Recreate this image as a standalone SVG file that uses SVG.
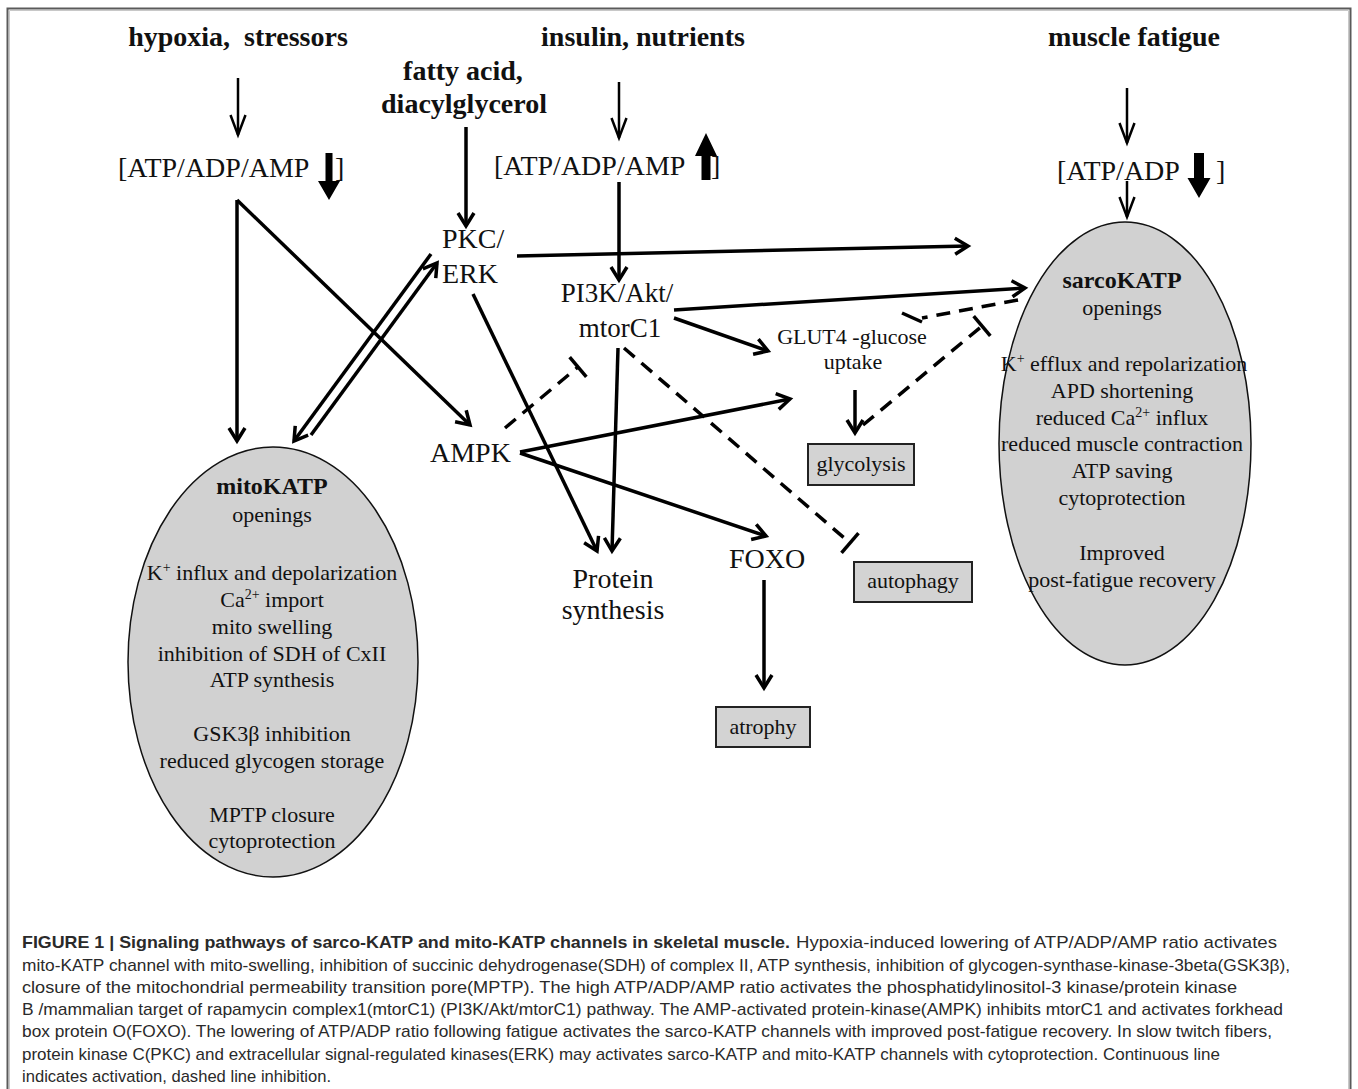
<svg xmlns="http://www.w3.org/2000/svg" width="1358" height="1089" viewBox="0 0 1358 1089">
<defs>
<style>
.t{font-family:"Liberation Serif","Times New Roman",serif;fill:#111}
.b{font-weight:bold}
.s28{font-size:28px}
.s27{font-size:27px}
.s22{font-size:22px}
.s24{font-size:24px}
.m{text-anchor:middle}
.c{font-family:"Liberation Sans",Arial,sans-serif;font-size:17px;fill:#2a2a2a}
.ln{stroke:#000;stroke-width:3.5;fill:none}
.thin{stroke:#000;stroke-width:2.5;fill:none}
.dash{stroke-dasharray:14 9}
.box{fill:#d3d3d3;stroke:#222;stroke-width:2}
.ell{fill:#d1d1d1;stroke:#111;stroke-width:1.5}
.blk{fill:#000}
</style>
<marker id="a" markerUnits="userSpaceOnUse" viewBox="-18 -12 24 24" refX="0" refY="0" markerWidth="24" markerHeight="24" orient="auto"><path d="M-13,-8 L0,0 L-13,8" fill="none" stroke="#000" stroke-width="3.5" stroke-dasharray="none"/></marker>
<marker id="at" markerUnits="userSpaceOnUse" viewBox="-24 -12 30 24" refX="0" refY="0" markerWidth="30" markerHeight="24" orient="auto"><path d="M-20,-7.5 L0,0 L-20,7.5" fill="none" stroke="#000" stroke-width="2.5" stroke-dasharray="none"/></marker>
<marker id="tb" markerUnits="userSpaceOnUse" viewBox="-4 -16 8 32" refX="0" refY="0" markerWidth="8" markerHeight="32" orient="auto"><path d="M0,-13 L0,13" fill="none" stroke="#000" stroke-width="3.5" stroke-dasharray="none"/></marker>
</defs>
<rect width="1358" height="1089" fill="#fff"/>
<path d="M7.5,1089 V8.5 H1350.5 V1089" fill="none" stroke="#5a5a5a" stroke-width="2"/>
<path d="M9.5,1089 V10.5 H1348.5 V1089" fill="none" stroke="#c8c8c8" stroke-width="1"/>

<g id="nodes">
<g id="hypoxia"><text class="t b s28 m" x="238" y="46" xml:space="preserve">hypoxia,  stressors</text></g>
<g id="insulin"><text class="t b s28 m" x="643" y="46">insulin, nutrients</text></g>
<g id="fatigue"><text class="t b s28 m" x="1134" y="46">muscle fatigue</text></g>
<g id="fatty"><text class="t b s28 m" x="463" y="80">fatty acid,</text><text class="t b s28 m" x="464" y="113">diacylglycerol</text></g>
<g id="atp-left"><text class="t s28" x="118" y="177">[ATP/ADP/AMP</text><polygon class="blk" points="325.5,153 332.5,153 332.5,181 340,181 329,200 318,181 325.5,181"/><text class="t s28" x="335" y="177">]</text></g>
<g id="atp-mid"><text class="t s28" x="494" y="175">[ATP/ADP/AMP</text><polygon class="blk" points="706,133 717,156 710.5,156 710.5,180 701.5,180 701.5,156 695,156"/><text class="t s28" x="711" y="175">]</text></g>
<g id="atp-right"><text class="t s28" x="1057" y="180">[ATP/ADP</text><polygon class="blk" points="1194,153 1204,153 1204,178 1210.5,178 1199,198 1187.5,178 1194,178"/><text class="t s28" x="1216" y="180">]</text></g>
<g id="pkc"><text class="t s28" x="442" y="248">PKC/</text><text class="t s28" x="442" y="283">ERK</text></g>
<g id="pi3k"><text class="t s27 m" x="617" y="302">PI3K/Akt/</text><text class="t s27 m" x="620" y="337">mtorC1</text></g>
<g id="glut4"><text class="t s22 m" x="852" y="344">GLUT4 -glucose</text><text class="t s22 m" x="853" y="369">uptake</text></g>
<g id="ampk"><text class="t s28" x="430" y="462">AMPK</text></g>
<g id="protein"><text class="t s28 m" x="613" y="588">Protein</text><text class="t s28 m" x="613" y="619">synthesis</text></g>
<g id="foxo"><text class="t s28 m" x="767" y="568">FOXO</text></g>
<g id="glycolysis"><rect class="box" x="808" y="444" width="106" height="41"/><text class="t s22 m" x="861" y="471">glycolysis</text></g>
<g id="autophagy"><rect class="box" x="854" y="562" width="118" height="40"/><text class="t s22 m" x="913" y="588">autophagy</text></g>
<g id="atrophy"><rect class="box" x="716" y="707" width="94" height="40"/><text class="t s22 m" x="763" y="734">atrophy</text></g>
<g id="sarcokatp"><ellipse class="ell" cx="1125" cy="443.5" rx="126" ry="221.5"/>
<text class="t b s24 m" x="1122" y="288">sarcoKATP</text>
<text class="t s22 m" x="1122" y="315">openings</text>
<text class="t s22 m" x="1124" y="371">K<tspan font-size="14" dy="-8">+</tspan><tspan dy="8"> efflux and repolarization</tspan></text>
<text class="t s22 m" x="1122" y="398">APD shortening</text>
<text class="t s22 m" x="1122" y="425">reduced Ca<tspan font-size="14" dy="-8">2+</tspan><tspan dy="8"> influx</tspan></text>
<text class="t s22 m" x="1122" y="451">reduced muscle contraction</text>
<text class="t s22 m" x="1122" y="478">ATP saving</text>
<text class="t s22 m" x="1122" y="505">cytoprotection</text>
<text class="t s22 m" x="1122" y="560">Improved</text>
<text class="t s22 m" x="1122" y="587">post-fatigue recovery</text>
</g>
<g id="mitokatp"><ellipse class="ell" cx="273" cy="662" rx="145" ry="215"/>
<text class="t b s24 m" x="272" y="494">mitoKATP</text>
<text class="t s22 m" x="272" y="522">openings</text>
<text class="t s22 m" x="272" y="580">K<tspan font-size="14" dy="-8">+</tspan><tspan dy="8"> influx and depolarization</tspan></text>
<text class="t s22 m" x="272" y="607">Ca<tspan font-size="14" dy="-8">2+</tspan><tspan dy="8"> import</tspan></text>
<text class="t s22 m" x="272" y="634">mito swelling</text>
<text class="t s22 m" x="272" y="661">inhibition of SDH of CxII</text>
<text class="t s22 m" x="272" y="687">ATP synthesis</text>
<text class="t s22 m" x="272" y="741">GSK3β inhibition</text>
<text class="t s22 m" x="272" y="768">reduced glycogen storage</text>
<text class="t s22 m" x="272" y="822">MPTP closure</text>
<text class="t s22 m" x="272" y="848">cytoprotection</text>
</g>
</g>

<g id="connectors">
<line class="thin" x1="238" y1="78" x2="238" y2="135" marker-end="url(#at)"/>
<line class="thin" x1="619" y1="82" x2="619" y2="138" marker-end="url(#at)"/>
<line class="thin" x1="1127" y1="88" x2="1127" y2="143" marker-end="url(#at)"/>
<line class="thin" x1="1127" y1="181" x2="1127" y2="217" marker-end="url(#at)"/>
<line class="ln" x1="466" y1="127" x2="466" y2="226" marker-end="url(#a)"/>
<line class="ln" x1="237" y1="200" x2="237" y2="441" marker-end="url(#a)"/>
<line class="ln" x1="237" y1="200" x2="470" y2="425" marker-end="url(#a)"/>
<line class="ln" x1="431" y1="254" x2="294" y2="441" marker-end="url(#a)"/>
<line class="ln" x1="311" y1="435" x2="437" y2="263" marker-end="url(#a)"/>
<line class="ln" x1="517" y1="256" x2="968" y2="246" marker-end="url(#a)"/>
<line class="ln" x1="619" y1="182" x2="619" y2="280" marker-end="url(#a)"/>
<line class="ln" x1="674" y1="310" x2="1025" y2="288" marker-end="url(#a)"/>
<line class="ln" x1="674" y1="318" x2="768" y2="351" marker-end="url(#a)"/>
<line class="ln" x1="473" y1="294" x2="597" y2="551" marker-end="url(#a)"/>
<line class="ln" x1="618" y1="348" x2="612" y2="551" marker-end="url(#a)"/>
<line class="ln" x1="520" y1="452" x2="790" y2="399" marker-end="url(#a)"/>
<line class="ln" x1="520" y1="453" x2="766" y2="536" marker-end="url(#a)"/>
<line class="ln" x1="855" y1="390" x2="855" y2="433" marker-end="url(#a)"/>
<line class="ln" x1="764" y1="580" x2="764" y2="688" marker-end="url(#a)"/>
<line class="ln dash" x1="505" y1="428" x2="578" y2="367" marker-end="url(#tb)"/>
<line class="ln dash" x1="624" y1="348" x2="850" y2="543" marker-end="url(#tb)"/>
<line class="ln dash" x1="863" y1="425" x2="982" y2="326" marker-end="url(#tb)"/>
<line class="ln dash" x1="1018" y1="300" x2="922" y2="318"/>
<line class="ln" x1="902" y1="313" x2="922" y2="322"/>
</g>

<g id="caption">
<text class="c" x="22" y="948" font-weight="bold" fill="#111" textLength="768" lengthAdjust="spacingAndGlyphs">FIGURE 1 | Signaling pathways of sarco-KATP and mito-KATP channels in skeletal muscle.</text>
<text class="c" x="796" y="948" textLength="481" lengthAdjust="spacingAndGlyphs">Hypoxia-induced lowering of ATP/ADP/AMP ratio activates</text>
<text class="c" x="22" y="971" textLength="1268" lengthAdjust="spacingAndGlyphs">mito-KATP channel with mito-swelling, inhibition of succinic dehydrogenase(SDH) of complex II, ATP synthesis, inhibition of glycogen-synthase-kinase-3beta(GSK3β),</text>
<text class="c" x="22" y="993" textLength="1215" lengthAdjust="spacingAndGlyphs">closure of the mitochondrial permeability transition pore(MPTP). The high ATP/ADP/AMP ratio activates the phosphatidylinositol-3 kinase/protein kinase</text>
<text class="c" x="22" y="1015" textLength="1261" lengthAdjust="spacingAndGlyphs">B /mammalian target of rapamycin complex1(mtorC1) (PI3K/Akt/mtorC1) pathway. The AMP-activated protein-kinase(AMPK) inhibits mtorC1 and activates forkhead</text>
<text class="c" x="22" y="1037" textLength="1250" lengthAdjust="spacingAndGlyphs">box protein O(FOXO). The lowering of ATP/ADP ratio following fatigue activates the sarco-KATP channels with improved post-fatigue recovery. In slow twitch fibers,</text>
<text class="c" x="22" y="1060" textLength="1198" lengthAdjust="spacingAndGlyphs">protein kinase C(PKC) and extracellular signal-regulated kinases(ERK) may activates sarco-KATP and mito-KATP channels with cytoprotection. Continuous line</text>
<text class="c" x="22" y="1082" textLength="309" lengthAdjust="spacingAndGlyphs">indicates activation, dashed line inhibition.</text>
</g>
</svg>
